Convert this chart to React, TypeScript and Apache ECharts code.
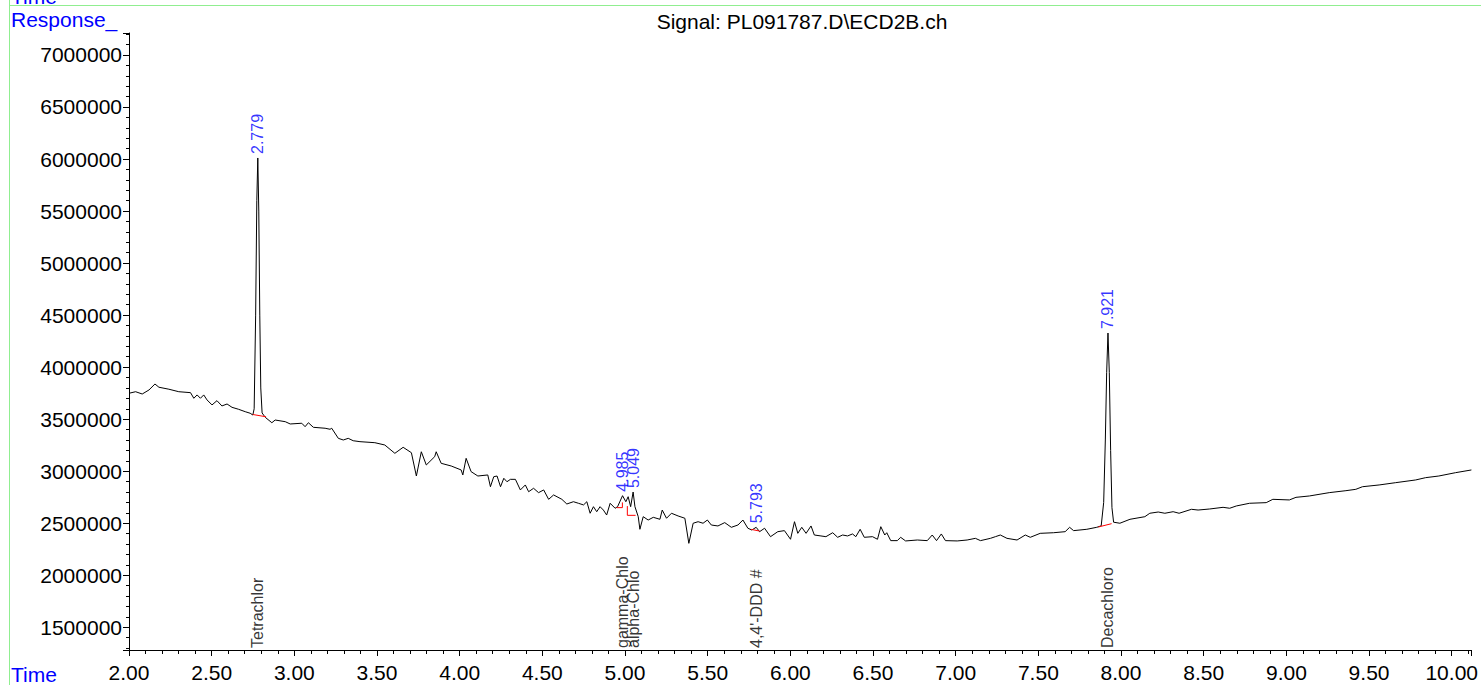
import React, { useEffect, useRef } from 'react';
import * as echarts from 'echarts';

const times = [
  2.000, 2.040, 2.080, 2.121, 2.157, 2.181, 2.241, 2.301, 2.372, 2.392, 2.412, 2.432, 2.452, 2.472, 2.502, 2.532, 2.562, 2.593, 2.623, 2.663,
  2.703, 2.733, 2.749, 2.757, 2.766, 2.773, 2.779, 2.785, 2.791, 2.797, 2.805, 2.824, 2.864, 2.884, 2.945, 2.975, 3.045, 3.065, 3.085, 3.115,
  3.186, 3.216, 3.226, 3.266, 3.296, 3.326, 3.356, 3.397, 3.487, 3.547, 3.608, 3.658, 3.708, 3.738, 3.768, 3.798, 3.849, 3.858, 3.888, 3.949,
  4.009, 4.019, 4.039, 4.069, 4.110, 4.170, 4.186, 4.206, 4.226, 4.247, 4.267, 4.286, 4.307, 4.337, 4.367, 4.397, 4.417, 4.447, 4.477, 4.508,
  4.538, 4.568, 4.618, 4.648, 4.688, 4.718, 4.749, 4.769, 4.789, 4.809, 4.829, 4.849, 4.869, 4.889, 4.910, 4.940, 4.955, 4.985, 5.005, 5.019,
  5.034, 5.049, 5.060, 5.080, 5.090, 5.110, 5.140, 5.171, 5.211, 5.225, 5.251, 5.281, 5.321, 5.362, 5.386, 5.412, 5.442, 5.472, 5.498, 5.522,
  5.562, 5.603, 5.643, 5.683, 5.713, 5.743, 5.767, 5.793, 5.814, 5.844, 5.880, 5.924, 5.964, 6.001, 6.025, 6.045, 6.069, 6.095, 6.125, 6.145,
  6.185, 6.215, 6.256, 6.286, 6.316, 6.346, 6.376, 6.396, 6.422, 6.447, 6.497, 6.527, 6.547, 6.571, 6.583, 6.607, 6.647, 6.667, 6.697, 6.768,
  6.828, 6.858, 6.884, 6.913, 6.938, 7.009, 7.069, 7.119, 7.150, 7.210, 7.240, 7.270, 7.310, 7.371, 7.421, 7.451, 7.511, 7.592, 7.662, 7.689,
  7.713, 7.793, 7.853, 7.880, 7.895, 7.905, 7.913, 7.921, 7.929, 7.937, 7.945, 7.955, 7.993, 8.054, 8.144, 8.174, 8.225, 8.265, 8.315, 8.351,
  8.426, 8.466, 8.536, 8.617, 8.657, 8.697, 8.777, 8.878, 8.918, 9.018, 9.058, 9.139, 9.259, 9.360, 9.420, 9.460, 9.561, 9.661, 9.782, 9.842,
  9.922, 10.023, 10.119,
];

const responses = [
  3749000, 3764000, 3742000, 3781000, 3838000, 3807000, 3788000, 3764000, 3755000, 3701000, 3733000, 3701000, 3733000, 3685000, 3637000, 3678000, 3627000, 3646000, 3614000, 3595000,
  3572000, 3557000, 3540000, 3600000, 4500000, 5600000, 6010000, 5500000, 4500000, 3800000, 3560000, 3518000, 3466000, 3492000, 3476000, 3454000, 3461000, 3428000, 3466000, 3422000,
  3413000, 3403000, 3413000, 3316000, 3300000, 3316000, 3293000, 3284000, 3274000, 3252000, 3172000, 3230000, 3178000, 2954000, 3187000, 3060000, 3140000, 3187000, 3076000, 3050000,
  3012000, 2964000, 3124000, 2996000, 2954000, 2964000, 2851000, 2947000, 2954000, 2851000, 2932000, 2899000, 2922000, 2922000, 2820000, 2868000, 2803000, 2836000, 2794000, 2820000,
  2730000, 2772000, 2730000, 2685000, 2707000, 2692000, 2676000, 2707000, 2596000, 2659000, 2611000, 2659000, 2627000, 2579000, 2692000, 2644000, 2659000, 2765000, 2707000, 2755000,
  2659000, 2800000, 2659000, 2563000, 2442000, 2563000, 2531000, 2557000, 2538000, 2627000, 2548000, 2596000, 2570000, 2548000, 2307000, 2500000, 2515000, 2500000, 2531000, 2483000,
  2474000, 2506000, 2461000, 2483000, 2531000, 2452000, 2435000, 2461000, 2419000, 2452000, 2371000, 2419000, 2429000, 2346000, 2515000, 2403000, 2461000, 2403000, 2474000, 2387000,
  2378000, 2371000, 2409000, 2365000, 2387000, 2378000, 2397000, 2371000, 2442000, 2365000, 2371000, 2346000, 2467000, 2387000, 2409000, 2333000, 2333000, 2365000, 2330000, 2339000,
  2333000, 2387000, 2333000, 2397000, 2333000, 2330000, 2339000, 2355000, 2333000, 2355000, 2371000, 2387000, 2355000, 2339000, 2387000, 2365000, 2403000, 2409000, 2419000, 2461000,
  2429000, 2442000, 2461000, 2475000, 2700000, 3300000, 3950000, 4328000, 3950000, 3200000, 2650000, 2510000, 2500000, 2538000, 2563000, 2596000, 2608000, 2596000, 2611000, 2596000,
  2634000, 2627000, 2637000, 2653000, 2644000, 2666000, 2692000, 2698000, 2730000, 2724000, 2749000, 2762000, 2794000, 2813000, 2826000, 2851000, 2868000, 2890000, 2916000, 2938000,
  2954000, 2986000, 3012000,
];

const peakTimes = [2.779, 4.985, 5.049, 5.793, 7.921];
const peakApex = [6010000, 2765000, 2800000, 2461000, 4328000];
const peakLabels = ['2.779', '4.985', '5.049', '5.793', '7.921'];
const compoundNames = ['Tetrachlor', 'gamma-Chlo', 'alpha-Chlo', "4,4'-DDD #", 'Decachloro'];

const baselineSegments: number[][][] = [
  [[2.749, 3545000], [2.829, 3523000]],
  [[4.949, 2650000], [4.984, 2650000], [4.984, 2700000]],
  [[5.014, 2665000], [5.014, 2576000], [5.064, 2576000]],
  [[5.763, 2441000], [5.814, 2425000]],
  [[7.863, 2464000], [7.943, 2496000]],
];

const X_MIN = 2;
const X_MAX = 10.12;
const Y_MIN = 1282000;
const Y_MAX = 7211000;
const Y_STEP = 500000;

const FONT = '"Liberation Sans", Arial, sans-serif';

export default function App() {
  const ref = useRef<HTMLDivElement>(null);
  useEffect(() => {
    if (!ref.current) return;
    const chart = echarts.init(ref.current, undefined, { renderer: 'svg' });
    const traceData = times.map((t, i) => [t, responses[i]]);
    const series: any[] = [
      {
        type: 'line',
        data: traceData,
        symbol: 'none',
        silent: true,
        lineStyle: { color: '#000', width: 1 },
        z: 3,
      },
      ...baselineSegments.map((seg) => ({
        type: 'line',
        data: seg,
        symbol: 'none',
        silent: true,
        lineStyle: { color: '#ff0000', width: 1 },
        z: 4,
      })),
      {
        type: 'scatter',
        symbolSize: 0,
        silent: true,
        data: peakTimes.map((t, i) => ({ value: [t, peakApex[i]], name: peakLabels[i] })),
        label: {
          show: true,
          position: 'top',
          distance: 4,
          rotate: 90,
          align: 'left',
          verticalAlign: 'middle',
          formatter: (p: any) => p.name,
          color: '#0000ff',
          fontSize: 16,
          fontFamily: FONT,
        },
        z: 5,
      },
      {
        type: 'scatter',
        symbolSize: 0,
        silent: true,
        data: peakTimes.map((t, i) => ({ value: [t, Y_MIN], name: compoundNames[i] })),
        label: {
          show: true,
          position: 'top',
          distance: 2,
          rotate: 90,
          align: 'left',
          verticalAlign: 'middle',
          formatter: (p: any) => p.name,
          color: '#000',
          fontSize: 16,
          fontFamily: FONT,
        },
        z: 5,
      },
    ];

    chart.setOption({
      animation: false,
      backgroundColor: '#fff',
      textStyle: { fontFamily: FONT },
      grid: { left: 129, right: 5, top: 33, bottom: 35, containLabel: false },
      xAxis: {
        type: 'value',
        min: X_MIN,
        max: X_MAX,
        interval: 0.5,
        axisLine: { show: true, lineStyle: { color: '#000', width: 1 } },
        axisTick: { show: true, length: 6, lineStyle: { color: '#000' } },
        minorTick: { show: true, splitNumber: 5, length: 4, lineStyle: { color: '#000' } },
        splitLine: { show: false },
        axisLabel: {
          fontSize: 21,
          color: '#000',
          fontFamily: FONT,
          margin: 12,
          showMaxLabel: false,
          formatter: (v: number) => v.toFixed(2),
        },
      },
      yAxis: {
        type: 'value',
        min: Y_MIN,
        max: Y_MAX,
        splitNumber: 12,
        minInterval: Y_STEP,
        maxInterval: Y_STEP,
        axisLine: { show: true, lineStyle: { color: '#000', width: 1 } },
        axisTick: { show: true, length: 6, lineStyle: { color: '#000' } },
        minorTick: { show: true, splitNumber: 5, length: 3, lineStyle: { color: '#000' } },
        splitLine: { show: false },
        axisLabel: {
          fontSize: 21,
          color: '#000',
          fontFamily: FONT,
          margin: 7,
          formatter: (v: number) => (Math.abs(v / Y_STEP - Math.round(v / Y_STEP)) < 1e-6 ? String(v) : ''),
        },
      },
      graphic: [
        { type: 'line', shape: { x1: 9.5, y1: 0, x2: 9.5, y2: 685 }, style: { stroke: '#90ee90', lineWidth: 1 }, silent: true },
        { type: 'line', shape: { x1: 9, y1: 5.5, x2: 1481, y2: 5.5 }, style: { stroke: '#90ee90', lineWidth: 1 }, silent: true },
        { type: 'text', x: 11, y: 7, style: { text: 'Time', fill: '#0000ff', font: `21px ${FONT}`, textVerticalAlign: 'bottom' }, silent: true },
        { type: 'text', x: 11, y: 19, style: { text: 'Response_', fill: '#0000ff', font: `21px ${FONT}`, textVerticalAlign: 'middle' }, silent: true },
        { type: 'text', x: 11, y: 685, style: { text: 'Time', fill: '#0000ff', font: `21px ${FONT}`, textVerticalAlign: 'bottom' }, silent: true },
        { type: 'text', x: 802, y: 21, style: { text: 'Signal: PL091787.D\\ECD2B.ch', fill: '#000', font: `21px ${FONT}`, textAlign: 'center', textVerticalAlign: 'middle' }, silent: true },
      ],
      series,
    });
    return () => chart.dispose();
  }, []);
  return <div ref={ref} style={{ position: 'fixed', left: 0, top: 0, width: 1481, height: 685, background: '#fff' }} />;
}
